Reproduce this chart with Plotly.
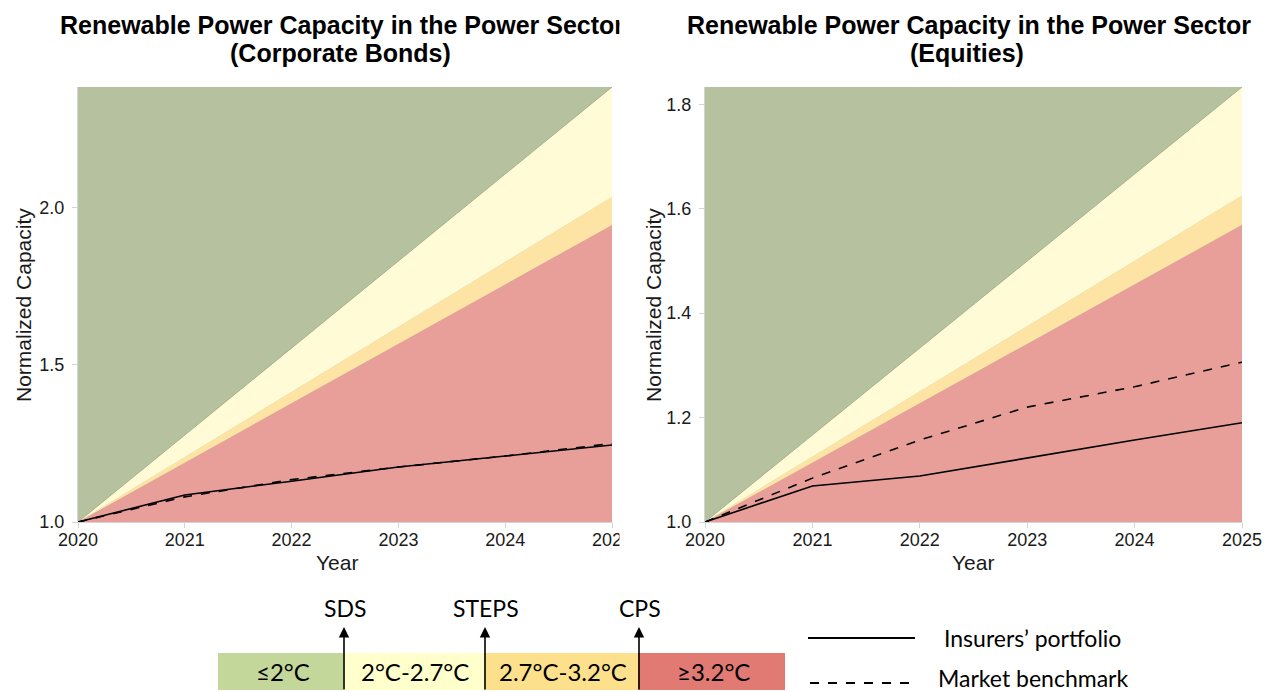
import plotly.graph_objects as go

W, H = 1264, 692
OFF = 0  # body margin removed via post_script

# ---- data ----
scen_years = [2020, 2025]
bonds_sds = [1.0, 2.385]
bonds_steps = [1.0, 2.035]
bonds_cps = [1.0, 1.946]
eq_sds = [1.0, 1.833]
eq_steps = [1.0, 1.625]
eq_cps = [1.0, 1.569]

years = [2020, 2021, 2022, 2023, 2024, 2025]
bonds_portfolio = [1.0, 1.086, 1.130, 1.175, 1.210, 1.245]
bonds_benchmark = [1.0, 1.080, 1.135, 1.175, 1.210, 1.250]
eq_portfolio = [1.0, 1.069, 1.088, 1.123, 1.157, 1.190]
eq_benchmark = [1.0, 1.084, 1.157, 1.220, 1.259, 1.306]

bonds_yticks = [1.0, 1.5, 2.0]
eq_yticks = [1.0, 1.2, 1.4, 1.6, 1.8]
title_line1 = "Renewable Power Capacity in the Power Sector"
title_line2 = ["(Corporate Bonds)", "(Equities)"]
band_labels = ["≤2°C", "2°C-2.7°C", "2.7°C-3.2°C", "≥3.2°C"]
scenario_labels = ["SDS", "STEPS", "CPS"]
line_labels = ["Insurers’ portfolio", "Market benchmark"]

GREEN = "#b6c29f"
YELLOW = "#fffbd6"
ORANGE = "#fde4a5"
RED = "#e89f99"
AXC = "#d4d4d4"
FONT = "Liberation Sans"
LFONT = "Lato"
TXT = "#1a1a1a"


def px(x):
    return (x - OFF) / W


def py(y):
    return 1 - (y - OFF) / H


fig = go.Figure()


def add_panel(xr, yr, sds, steps, cps, port, bench):
    fig.add_trace(go.Scatter(x=scen_years, y=[1.0, 1.0], mode="lines",
                             line=dict(width=0), xaxis=xr, yaxis=yr,
                             showlegend=False, hoverinfo="skip"))
    fig.add_trace(go.Scatter(x=scen_years, y=cps, mode="lines", fill="tonexty",
                             fillcolor=RED, line=dict(width=0), xaxis=xr, yaxis=yr,
                             showlegend=False, hoverinfo="skip"))
    fig.add_trace(go.Scatter(x=scen_years, y=steps, mode="lines", fill="tonexty",
                             fillcolor=ORANGE, line=dict(width=0), xaxis=xr, yaxis=yr,
                             showlegend=False, hoverinfo="skip"))
    fig.add_trace(go.Scatter(x=scen_years, y=sds, mode="lines", fill="tonexty",
                             fillcolor=YELLOW, line=dict(width=1, color="#a3b38a"),
                             xaxis=xr, yaxis=yr, showlegend=False, hoverinfo="skip"))
    fig.add_trace(go.Scatter(x=years, y=bench, mode="lines",
                             line=dict(color="black", width=1.6, dash="dash"),
                             xaxis=xr, yaxis=yr, showlegend=False))
    fig.add_trace(go.Scatter(x=years, y=port, mode="lines",
                             line=dict(color="black", width=1.6),
                             xaxis=xr, yaxis=yr, showlegend=False))


add_panel("x", "y", bonds_sds, bonds_steps, bonds_cps, bonds_portfolio, bonds_benchmark)
add_panel("x2", "y2", eq_sds, eq_steps, eq_cps, eq_portfolio, eq_benchmark)

axis_common = dict(showgrid=False, zeroline=False, showline=True, linecolor=AXC,
                   linewidth=1, ticks="outside", tickcolor=AXC, ticklen=5,
                   automargin=False,
                   tickfont=dict(family=FONT, size=18, color=TXT))

fig.update_layout(
    width=W, height=H,
    margin=dict(l=0, r=0, t=0, b=0, autoexpand=False),
    paper_bgcolor="white",
    plot_bgcolor=GREEN,
    showlegend=False,
    xaxis=dict(domain=[px(78), px(612)], range=[2020, 2025], tickvals=years,
               ticklabelstandoff=-4, anchor="y", **axis_common),
    yaxis=dict(domain=[py(522), py(87)], range=[1.0, bonds_sds[1]], tickvals=bonds_yticks,
               tickformat=".1f", ticklabelstandoff=4, anchor="x", **axis_common),
    xaxis2=dict(domain=[px(705), px(1242)], range=[2020, 2025], tickvals=years,
                ticklabelstandoff=-4, anchor="y2", **axis_common),
    yaxis2=dict(domain=[py(522), py(87)], range=[1.0, eq_sds[1]], tickvals=eq_yticks,
                tickformat=".1f", ticklabelstandoff=4, anchor="x2", **axis_common),
)

anns = []
# panel titles
for cx, t2 in zip([342, 969], title_line2):
    anns.append(dict(x=px(cx), y=py(25), xref="paper", yref="paper", text="<b>" + title_line1 + "</b>",
                     showarrow=False, xanchor="center", yanchor="middle",
                     font=dict(family=FONT, size=25, color="black")))
    anns.append(dict(x=px(cx - 2), y=py(53), xref="paper", yref="paper", text="<b>" + t2 + "</b>",
                     showarrow=False, xanchor="center", yanchor="middle",
                     font=dict(family=FONT, size=25, color="black")))
# clip box emulating the cropped left panel (covers overflowing title / tick text)
anns.append(dict(x=px(619), y=py(5), xref="paper", yref="paper", text=" ",
                 showarrow=False, xanchor="left", yanchor="top", width=22, height=560,
                 bgcolor="white", borderpad=0))

# axis titles
for cx in [337, 973]:
    anns.append(dict(x=px(cx), y=py(562), xref="paper", yref="paper", text="Year",
                     showarrow=False, xanchor="center", yanchor="middle",
                     font=dict(family=FONT, size=21, color=TXT)))
for cx in [23, 653]:
    anns.append(dict(x=px(cx), y=py(305), xref="paper", yref="paper", text="Normalized Capacity",
                     showarrow=False, xanchor="center", yanchor="middle", textangle=-90,
                     font=dict(family=FONT, size=21, color=TXT)))

shapes = []
bar_edges = [218, 343, 484, 638, 785]
bar_colors = ["#c4d79b", "#ffffcc", "#fde08c", "#e07a72"]
for i in range(4):
    shapes.append(dict(type="rect", xref="paper", yref="paper",
                       x0=px(bar_edges[i]), x1=px(bar_edges[i + 1]), y0=py(690), y1=py(653),
                       fillcolor=bar_colors[i], line=dict(width=0), layer="above"))
    anns.append(dict(x=px((bar_edges[i] + bar_edges[i + 1]) / 2 + 2), y=py(671), xref="paper", yref="paper",
                     text=band_labels[i], showarrow=False, xanchor="center", yanchor="middle",
                     font=dict(family=LFONT, size=24, color="black")))

for xpos, lab in zip([344, 485, 639], scenario_labels):
    anns.append(dict(x=px(xpos), y=py(627), xref="paper", yref="paper", ax=0, ay=64,
                     axref="pixel", ayref="pixel", text="", showarrow=True,
                     arrowhead=2, arrowsize=1.3, arrowwidth=1.6, arrowcolor="black"))
    anns.append(dict(x=px(xpos + 1), y=py(608), xref="paper", yref="paper", text=lab,
                     showarrow=False, xanchor="center", yanchor="middle",
                     font=dict(family=LFONT, size=23, color="black")))

shapes.append(dict(type="line", xref="paper", yref="paper", x0=px(808), x1=px(915),
                   y0=py(638), y1=py(638), line=dict(color="black", width=2.2)))
shapes.append(dict(type="line", xref="paper", yref="paper", x0=px(810), x1=px(915),
                   y0=py(683), y1=py(683), line=dict(color="black", width=2.2, dash="dash")))
anns.append(dict(x=px(942), y=py(638), xref="paper", yref="paper", text=line_labels[0],
                 showarrow=False, xanchor="left", yanchor="middle",
                 font=dict(family=LFONT, size=23, color="black")))
anns.append(dict(x=px(936), y=py(678), xref="paper", yref="paper", text=line_labels[1],
                 showarrow=False, xanchor="left", yanchor="middle",
                 font=dict(family=LFONT, size=23, color="black")))

fig.update_layout(annotations=anns, shapes=shapes)
fig.write_html("out.html", config={"displayModeBar": False},
               post_script="document.body.style.margin='0';document.body.style.overflow='hidden';")
